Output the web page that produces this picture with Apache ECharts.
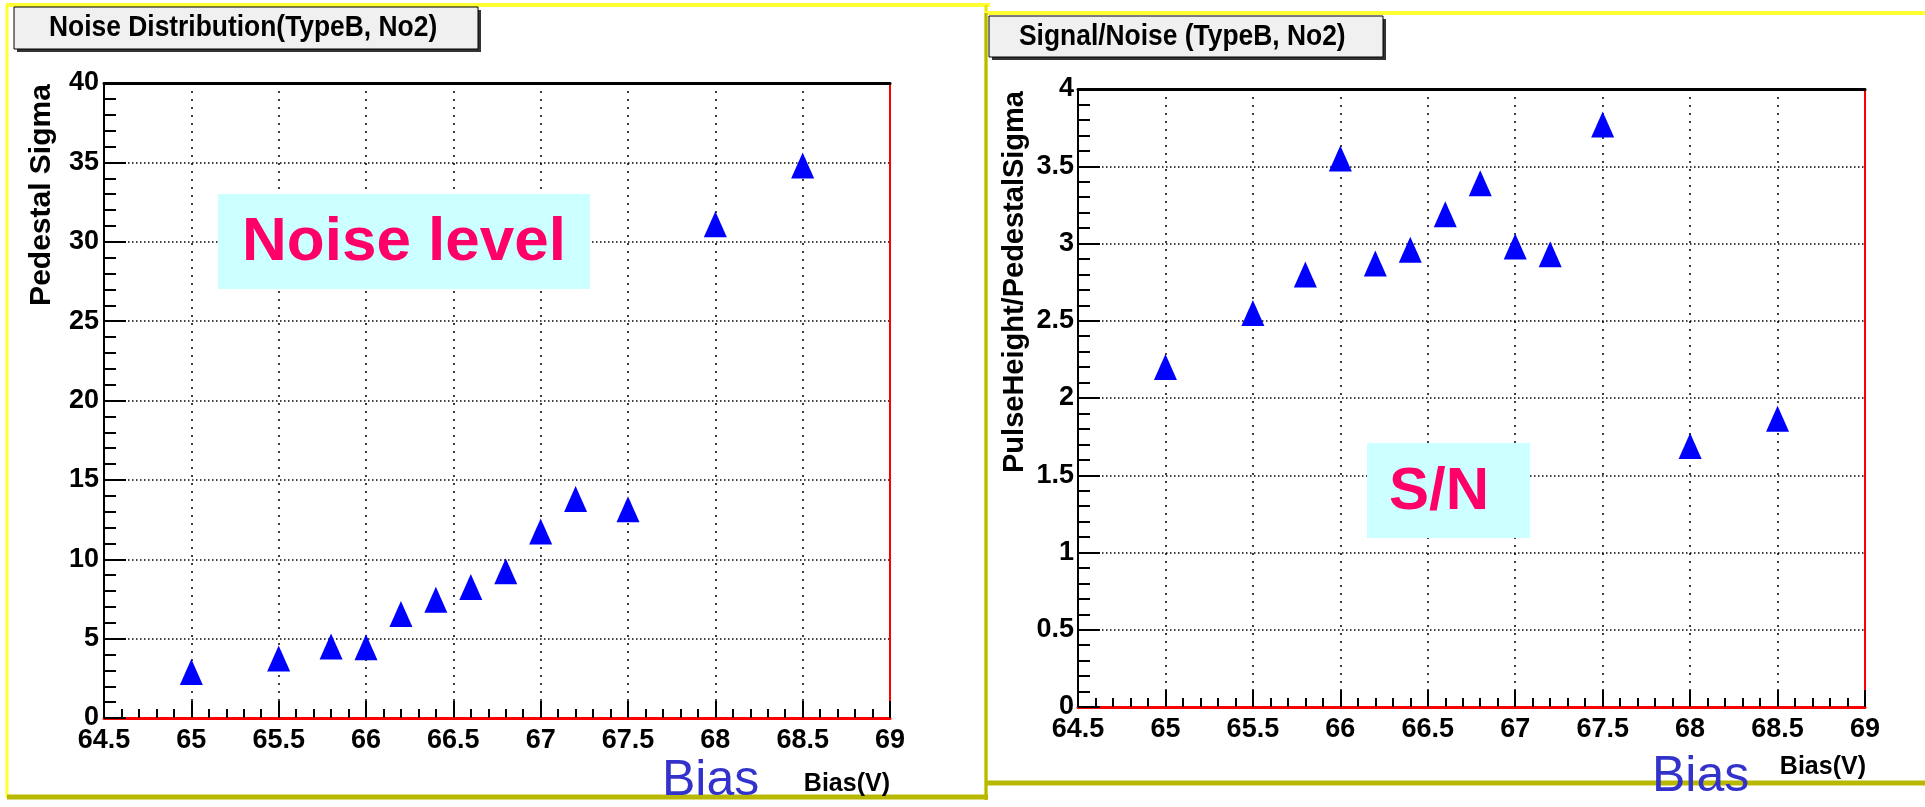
<!DOCTYPE html>
<html>
<head>
<meta charset="utf-8">
<script src="https://cdn.jsdelivr.net/npm/echarts@6/dist/echarts.min.js"></script>
<style>
  html, body { margin: 0; padding: 0; background: #fff; }
  #charts_main { width: 1925px; height: 807px; }
</style>
</head>
<body>
<div id="charts_main"></div>
<script>
// data
const biasV = [65, 65.5, 65.8, 66, 66.2, 66.4, 66.6, 66.8, 67, 67.2, 67.5, 68, 68.5];
const pedestalSigma = [2.9, 3.75, 4.5, 4.45, 6.55, 7.45, 8.25, 9.25, 11.75, 13.8, 13.15, 31.1, 34.8];
const signalNoise = [2.2, 2.55, 2.8, 3.55, 2.87, 2.96, 3.19, 3.39, 2.98, 2.93, 3.77, 1.69, 1.865];

const titles = ['Noise Distribution(TypeB, No2)', 'Signal/Noise (TypeB, No2)'];
const yNames = ['Pedestal Sigma', 'PulseHeight/PedestalSigma'];
const xName = 'Bias(V)';

const mainFont = '"Liberation Sans", Arial, sans-serif';

function init() {
  let Chart = echarts.init(document.getElementById('charts_main'));

  function bottomAxis(idx) {
    return {
      type: 'value', gridIndex: idx, min: 64.5, max: 69, interval: 0.5,
      axisLine: {onZero: false, lineStyle: {color: '#ff0000', width: 3}},
      axisTick: {inside: true, length: 17, lineStyle: {color: '#000', width: 2}},
      minorTick: {show: true, splitNumber: 5, length: 9, lineStyle: {color: '#000', width: 2}},
      axisLabel: {color: '#000', fontFamily: mainFont, fontWeight: 'bold', fontSize: 27, margin: 9,
        showMinLabel: true, showMaxLabel: true},
      splitLine: {show: true, lineStyle: {color: '#000', type: [2, 6], width: 1.5}}
    };
  }
  function topAxis(idx) {
    return {
      type: 'value', gridIndex: idx, position: 'top', min: 64.5, max: 69,
      axisLine: {onZero: false, lineStyle: {color: '#000', width: 3}},
      axisTick: {show: false}, axisLabel: {show: false}, splitLine: {show: false}
    };
  }
  function leftAxis(idx, max, interval, margin) {
    return {
      type: 'value', gridIndex: idx, min: 0, max: max, interval: interval,
      axisLine: {show: true, onZero: false, lineStyle: {color: '#000', width: 2}},
      axisTick: {show: true, inside: true, length: 22, lineStyle: {color: '#000', width: 2}},
      minorTick: {show: true, splitNumber: 5, length: 12, lineStyle: {color: '#000', width: 2}},
      axisLabel: {color: '#000', fontFamily: mainFont, fontWeight: 'bold', fontSize: 27, margin: margin},
      splitLine: {show: true, lineStyle: {color: '#000', type: [1.5, 2.5], width: 1.5}}
    };
  }
  function rightAxis(idx, max) {
    return {
      type: 'value', gridIndex: idx, position: 'right', min: 0, max: max,
      axisLine: {show: true, onZero: false, lineStyle: {color: '#ff0000', width: 2}},
      axisTick: {show: false}, axisLabel: {show: false}, splitLine: {show: false}
    };
  }

  let triangle = {symbol: 'triangle', symbolSize: [23, 26], itemStyle: {color: '#0000ff', opacity: 1}};

  let option = {
    backgroundColor: '#fff',
    animation: false,
    grid: [
      {left: 104, top: 83, width: 786, height: 635},
      {left: 1078, top: 89, width: 787, height: 618}
    ],
    xAxis: [bottomAxis(0), bottomAxis(1), topAxis(0), topAxis(1)],
    yAxis: [leftAxis(0, 40, 5, 5), leftAxis(1, 4, 0.5, 4), rightAxis(0, 40), rightAxis(1, 4)],
    series: [
      Object.assign({type: 'scatter', xAxisIndex: 0, yAxisIndex: 0, z: 5,
        data: biasV.map((b, i) => [b, pedestalSigma[i]])}, triangle),
      Object.assign({type: 'scatter', xAxisIndex: 1, yAxisIndex: 1, z: 5,
        data: biasV.map((b, i) => [b, signalNoise[i]])}, triangle)
    ],
    graphic: [
      // panel frames
      {type: 'line', shape: {x1: 6, y1: 5, x2: 990, y2: 5}, style: {stroke: '#ffff33', lineWidth: 4}},
      {type: 'line', shape: {x1: 7, y1: 5, x2: 7, y2: 798}, style: {stroke: '#ffff33', lineWidth: 3}},
      {type: 'line', shape: {x1: 986, y1: 5, x2: 986, y2: 798}, style: {stroke: '#e6e600', lineWidth: 3}},
      {type: 'line', shape: {x1: 7, y1: 797, x2: 988, y2: 797}, style: {stroke: '#b8b800', lineWidth: 5}},
      {type: 'line', shape: {x1: 985, y1: 13, x2: 1925, y2: 13}, style: {stroke: '#ffff33', lineWidth: 4}},
      {type: 'line', shape: {x1: 986, y1: 13, x2: 986, y2: 800}, style: {stroke: '#b8b800', lineWidth: 3}},
      {type: 'line', shape: {x1: 986, y1: 783, x2: 1925, y2: 783}, style: {stroke: '#b8b800', lineWidth: 5}},
      // title boxes
      {type: 'rect', shape: {x: 17, y: 10, width: 464, height: 42}, style: {fill: '#333'}},
      {type: 'rect', shape: {x: 14, y: 7, width: 464, height: 42}, style: {fill: '#f0f0f0', stroke: '#000', lineWidth: 1}},
      {type: 'text', x: 49, y: 28, scaleX: 0.88,
        style: {text: titles[0], fill: '#000', font: 'bold 30px ' + mainFont, textVerticalAlign: 'middle'}},
      {type: 'rect', shape: {x: 992, y: 19, width: 394, height: 41}, style: {fill: '#333'}},
      {type: 'rect', shape: {x: 989, y: 16, width: 394, height: 41}, style: {fill: '#f0f0f0', stroke: '#000', lineWidth: 1}},
      {type: 'text', x: 1019, y: 37, scaleX: 0.88,
        style: {text: titles[1], fill: '#000', font: 'bold 30px ' + mainFont, textVerticalAlign: 'middle'}},
      // y axis names
      {type: 'text', x: 42, y: 195, rotation: Math.PI / 2,
        style: {text: yNames[0], fill: '#000', font: 'bold 30px ' + mainFont, textAlign: 'center', textVerticalAlign: 'middle'}},
      {type: 'text', x: 1015, y: 282, rotation: Math.PI / 2,
        style: {text: yNames[1], fill: '#000', font: 'bold 29px ' + mainFont, textAlign: 'center', textVerticalAlign: 'middle'}},
      // x axis names
      {type: 'text', x: 890, y: 784, style: {text: xName, fill: '#000', font: 'bold 25px ' + mainFont, textAlign: 'right', textVerticalAlign: 'middle'}},
      {type: 'text', x: 1866, y: 767, style: {text: xName, fill: '#000', font: 'bold 25px ' + mainFont, textAlign: 'right', textVerticalAlign: 'middle'}},
      // annotations
      {type: 'rect', z: 10, shape: {x: 218, y: 194, width: 372, height: 95}, style: {fill: '#ccffff'}},
      {type: 'text', z: 11, x: 404, y: 243, style: {text: 'Noise level', fill: '#ff0066', font: 'bold 62px ' + mainFont, textAlign: 'center', textVerticalAlign: 'middle'}},
      {type: 'rect', z: 10, shape: {x: 1367, y: 443, width: 163, height: 95}, style: {fill: '#ccffff'}},
      {type: 'text', z: 11, x: 1439, y: 492, style: {text: 'S/N', fill: '#ff0066', font: 'bold 60px ' + mainFont, textAlign: 'center', textVerticalAlign: 'middle'}},
      {type: 'text', z: 11, x: 662, y: 806, style: {text: 'Bias', fill: '#3333cc', font: '50px ' + mainFont, textVerticalAlign: 'bottom'}},
      {type: 'text', z: 11, x: 1652, y: 802, style: {text: 'Bias', fill: '#3333cc', font: '50px ' + mainFont, textVerticalAlign: 'bottom'}}
    ]
  };
  Chart.setOption(option);
}

init();
</script>
</body>
</html>
